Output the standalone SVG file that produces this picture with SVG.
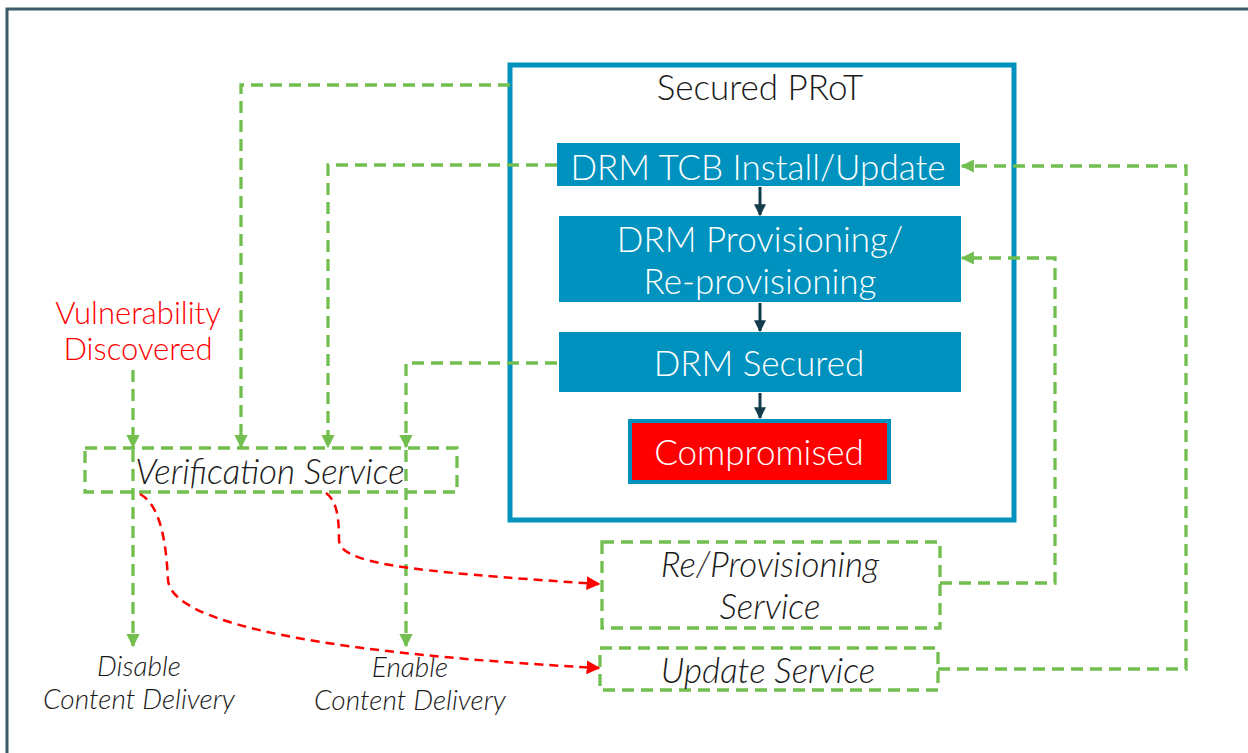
<svg xmlns="http://www.w3.org/2000/svg" width="1248" height="753" viewBox="0 0 1248 753">
<defs>
<marker id="ga" viewBox="0 0 10 10" refX="9" refY="5" markerWidth="4" markerHeight="4" orient="auto" markerUnits="strokeWidth"><path d="M0,0 L10,5 L0,10 Z" fill="#72bf4f"/></marker>
<marker id="ra" viewBox="0 0 10 10" refX="9" refY="5" markerWidth="5.5" markerHeight="5.5" orient="auto" markerUnits="strokeWidth"><path d="M0,0 L10,5 L0,10 Z" fill="#ff0000"/></marker>
<marker id="da" viewBox="0 0 10 10" refX="9" refY="5" markerWidth="4" markerHeight="4" orient="auto" markerUnits="strokeWidth"><path d="M0,0 L10,5 L0,10 Z" fill="#123c4c"/></marker>
</defs>
<style>
.t{font-family:Lato,"Liberation Sans",sans-serif;font-weight:300}
.w{fill:#ffffff}
.blk{fill:#1a1a1a}
.it{font-style:italic;fill:#1a1a1a}
.blue{fill:#0092be}
.g{fill:none;stroke:#72bf4f;stroke-width:3.3;stroke-dasharray:12 7}
.gb{fill:none;stroke:#72bf4f;stroke-width:3.3;stroke-dasharray:12 7}
.r{fill:none;stroke:#ff0000;stroke-width:2.5;stroke-dasharray:9 6}
.d{stroke:#123c4c;stroke-width:3}
</style>
<rect width="1248" height="753" fill="#ffffff"/>
<path d="M7,753 L7,9 L1260,9" fill="none" stroke="#3d5c68" stroke-width="3"/>

<g id="prot">
<rect x="510" y="65" width="504" height="455" fill="none" stroke="#0092be" stroke-width="5"/>
<text class="t blk" x="760" y="100" font-size="35" text-anchor="middle">Secured PRoT</text>
</g>
<g id="tcb">
<rect x="557" y="143" width="403" height="43" class="blue"/>
<text class="t w" x="758" y="180" font-size="35" text-anchor="middle">DRM TCB Install/Update</text>
</g>
<g id="prov">
<rect x="559" y="216" width="402" height="86" class="blue"/>
<text class="t w" x="760" y="252" font-size="35" text-anchor="middle">DRM Provisioning/</text>
<text class="t w" x="760" y="294" font-size="35" text-anchor="middle">Re-provisioning</text>
</g>
<g id="secured">
<rect x="559" y="332" width="402" height="60" class="blue"/>
<text class="t w" x="759" y="376" font-size="35" text-anchor="middle">DRM Secured</text>
</g>
<g id="compromised">
<rect x="630" y="421" width="259" height="61" fill="#ff0000" stroke="#0092be" stroke-width="4"/>
<text class="t w" x="759" y="465" font-size="35" text-anchor="middle">Compromised</text>
</g>
<g id="vuln">
<text class="t" x="138" y="324" font-size="31" fill="#ff0000" text-anchor="middle">Vulnerability</text>
<text class="t" x="138" y="360" font-size="31" fill="#ff0000" text-anchor="middle">Discovered</text>
</g>
<g id="verification">
<rect x="85" y="448" width="372" height="44" class="gb"/>
<text class="t it" x="270" y="484" font-size="35" text-anchor="middle">Verification Service</text>
</g>
<g id="reprov">
<rect x="602" y="542" width="338" height="86" class="gb"/>
<text class="t it" x="770" y="577" font-size="35" text-anchor="middle">Re/Provisioning</text>
<text class="t it" x="770" y="619" font-size="35" text-anchor="middle">Service</text>
</g>
<g id="update">
<rect x="600" y="648" width="338" height="42" class="gb"/>
<text class="t it" x="768" y="683" font-size="35" text-anchor="middle">Update Service</text>
</g>
<g id="disable">
<text class="t it" x="139" y="676" font-size="28" text-anchor="middle">Disable</text>
<text class="t it" x="139" y="709" font-size="28" text-anchor="middle">Content Delivery</text>
</g>
<g id="enable">
<text class="t it" x="410" y="677" font-size="28" text-anchor="middle">Enable</text>
<text class="t it" x="410" y="710" font-size="28" text-anchor="middle">Content Delivery</text>
</g>

<g id="connectors">
<line x1="760" y1="187" x2="760" y2="215" class="d" marker-end="url(#da)"/>
<line x1="760" y1="303" x2="760" y2="331" class="d" marker-end="url(#da)"/>
<line x1="760" y1="393" x2="760" y2="418" class="d" marker-end="url(#da)"/>
<path d="M510,85 L241,85 L241,447" class="g" marker-end="url(#ga)"/>
<path d="M557,165 L328,165 L328,447" class="g" marker-end="url(#ga)"/>
<path d="M557,363 L406,363 L406,447" class="g" marker-end="url(#ga)"/>
<path d="M406,450 L406,646" class="g" marker-end="url(#ga)"/>
<path d="M133,370 L133,447" class="g" marker-end="url(#ga)"/>
<path d="M133,450 L133,646" class="g" marker-end="url(#ga)"/>
<path d="M940,583 L1055,583 L1055,258 L962,258" class="g" marker-end="url(#ga)"/>
<path d="M938,669 L1186,669 L1186,166 L962,166" class="g" marker-end="url(#ga)"/>
<path d="M326,493 C337,501 339,518 339,540 C340,563 400,571 599,584" class="r" marker-end="url(#ra)"/>
<path d="M140,494 C160,505 166,540 168,580 C171,620 300,652 599,668" class="r" marker-end="url(#ra)"/>
</g>
</svg>
